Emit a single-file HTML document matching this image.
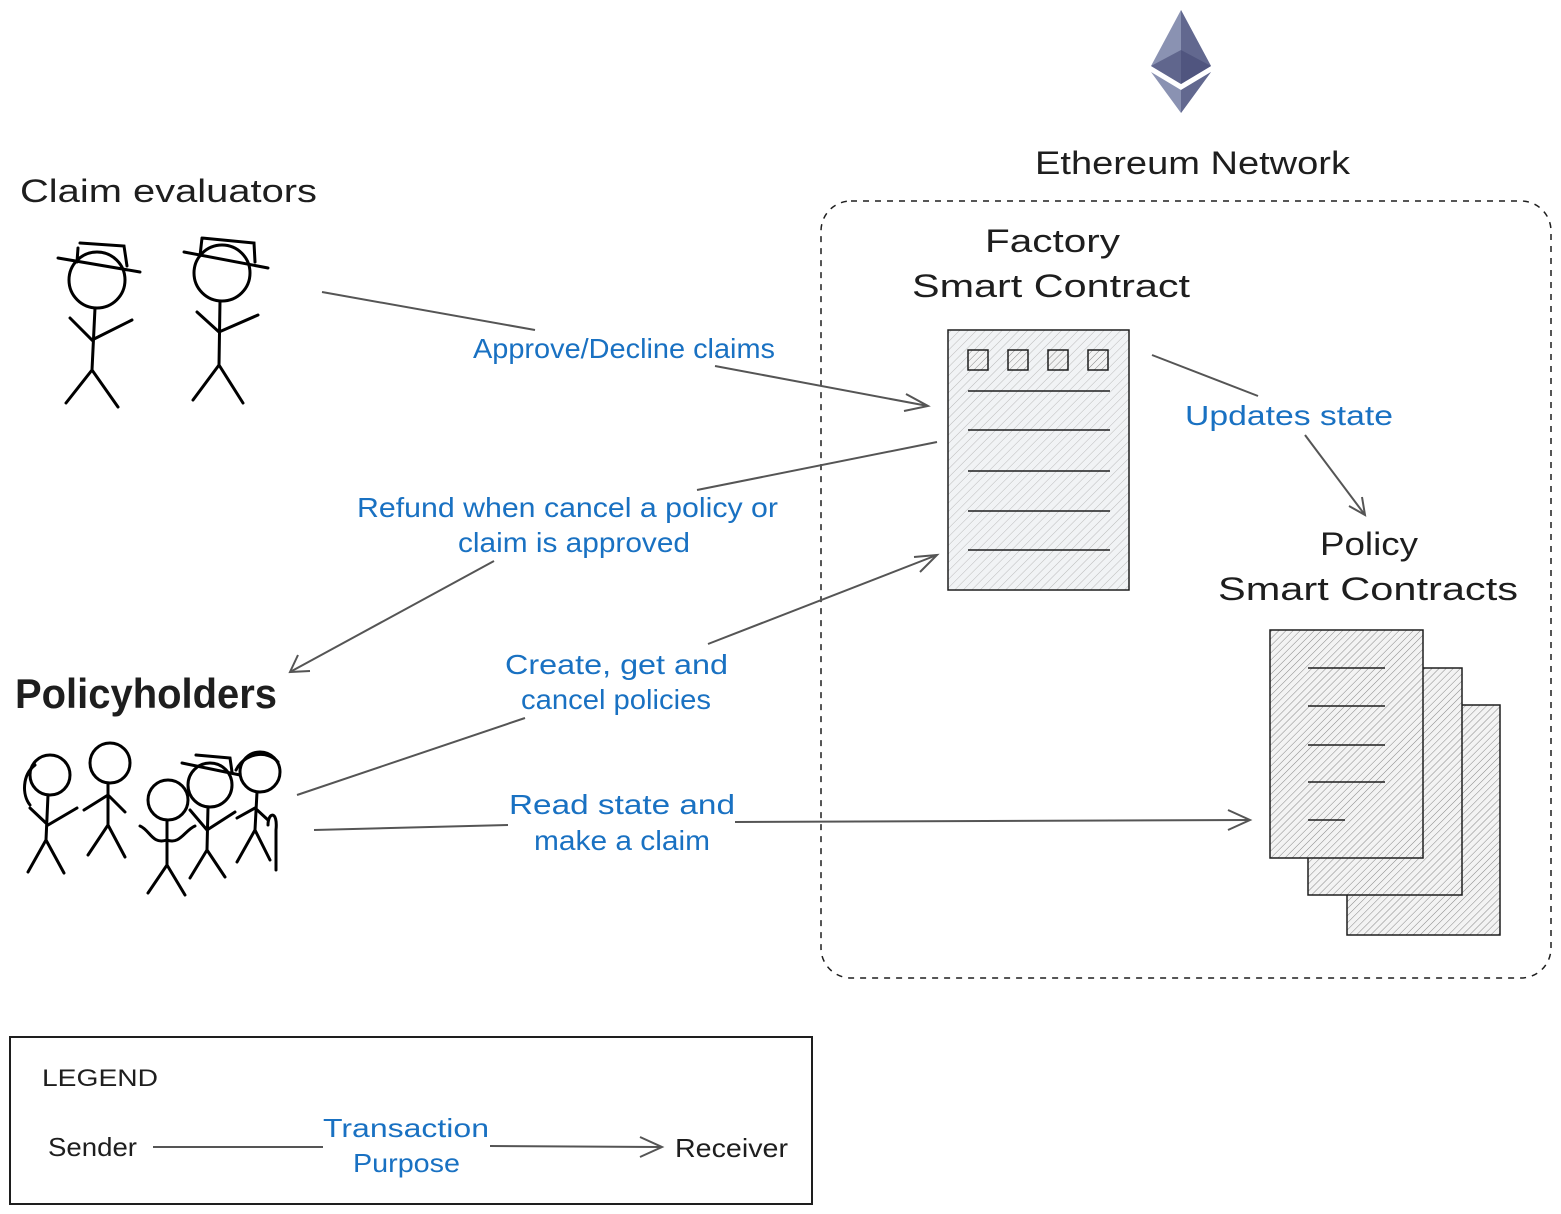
<!DOCTYPE html>
<html><head><meta charset="utf-8"><style>
html,body{margin:0;padding:0;background:#fff;}
svg{display:block;}
text{font-family:"Liberation Sans",sans-serif;}
.k{fill:#1e1e1e}
.b{fill:#1971c2}
</style></head><body>
<svg width="1561" height="1214" viewBox="0 0 1561 1214" xmlns="http://www.w3.org/2000/svg">
<defs>
<pattern id="h" width="6" height="6" patternUnits="userSpaceOnUse" patternTransform="rotate(45)">
<rect width="6" height="6" fill="#f1f3f5"/><line x1="0" y1="0" x2="0" y2="6" stroke="#bbb" stroke-width="1"/></pattern>
<pattern id="h2" width="5" height="5" patternUnits="userSpaceOnUse" patternTransform="rotate(45)">
<rect width="5" height="5" fill="#f3f3f3"/><line x1="0" y1="0" x2="0" y2="5" stroke="#888" stroke-width="1"/></pattern>
</defs>
<polygon points="1181,10 1151,66 1181,84 1211,66" fill="#8a92b2"/>
<polygon points="1181,10 1181,84 1211,66" fill="#62688f"/>
<polygon points="1181,50 1151,66 1181,84 1211,66" fill="#454a75" opacity="0.6"/>
<polygon points="1151,72 1181,113 1211,72 1181,90" fill="#8a92b2"/>
<polygon points="1181,90 1181,113 1211,72" fill="#62688f"/>

<g lengthAdjust="spacingAndGlyphs">
<text x="1035" y="174" font-size="32" class="k" textLength="315" lengthAdjust="spacingAndGlyphs">Ethereum Network</text>
<text x="985" y="252" font-size="32" class="k" textLength="135" lengthAdjust="spacingAndGlyphs">Factory</text>
<text x="912" y="297" font-size="32" class="k" textLength="278" lengthAdjust="spacingAndGlyphs">Smart Contract</text>
</g>
<rect x="821" y="201" width="730" height="777" rx="30" fill="none" stroke="#1e1e1e" stroke-width="1.5" stroke-dasharray="6 6"/>

<rect x="948" y="330" width="181" height="260" fill="url(#h)" stroke="#1e1e1e" stroke-width="1.5"/>
<g fill="url(#h2)" stroke="#1e1e1e" stroke-width="1.5">
<rect x="968" y="350" width="20" height="20"/><rect x="1008" y="350" width="20" height="20"/>
<rect x="1048" y="350" width="20" height="20"/><rect x="1088" y="350" width="20" height="20"/></g>
<g stroke="#1e1e1e" stroke-width="1.5">
<line x1="968" y1="391" x2="1110" y2="391"/><line x1="968" y1="430" x2="1110" y2="430"/>
<line x1="968" y1="471" x2="1110" y2="471"/><line x1="968" y1="511" x2="1110" y2="511"/>
<line x1="968" y1="550" x2="1110" y2="550"/></g>

<text x="1185" y="425" font-size="28" class="b" textLength="208" lengthAdjust="spacingAndGlyphs">Updates state</text>
<g stroke="#555" stroke-width="2" fill="none">
<path d="M1152,355 L1258,396"/><path d="M1305,435 L1365,515"/><path d="M1349,506 L1365,515 L1362,497"/></g>
<text x="1320" y="555" font-size="32" class="k" textLength="98" lengthAdjust="spacingAndGlyphs">Policy</text>
<text x="1218" y="600" font-size="32" class="k" textLength="300" lengthAdjust="spacingAndGlyphs">Smart Contracts</text>

<g stroke="#1e1e1e" stroke-width="1.5">
<rect x="1347" y="705" width="153" height="230" fill="url(#h2)"/>
<rect x="1308" y="668" width="154" height="227" fill="url(#h2)"/>
<rect x="1270" y="630" width="153" height="228" fill="url(#h2)"/>
<line x1="1308" y1="668" x2="1385" y2="668"/><line x1="1308" y1="706" x2="1385" y2="706"/>
<line x1="1308" y1="745" x2="1385" y2="745"/><line x1="1308" y1="782" x2="1385" y2="782"/>
<line x1="1308" y1="820" x2="1345" y2="820"/></g>

<text x="20" y="202" font-size="32" class="k" textLength="297" lengthAdjust="spacingAndGlyphs">Claim evaluators</text>
<g stroke="#000" stroke-width="3" fill="none" stroke-linecap="round">
<circle cx="97" cy="280" r="28"/><path d="M58,258 L140,272 M80,243 L124,246 L127,266 M78,248 L77,262"/>
<path d="M95,308 L92,370 M92,370 L66,403 M92,370 L118,407 M70,318 L92,340 L132,320"/>
<circle cx="222" cy="273" r="28"/><path d="M184,252 L268,268 M202,238 L254,243 L255,262 M202,238 L200,256"/>
<path d="M220,301 L219,365 M219,365 L193,400 M219,365 L243,403 M197,312 L219,332 L258,315"/>
</g>

<text x="15" y="708" font-size="42" font-weight="bold" class="k" textLength="262" lengthAdjust="spacingAndGlyphs">Policyholders</text>
<g stroke="#000" stroke-width="3" fill="none" stroke-linecap="round">
<circle cx="50" cy="775" r="20"/><path d="M48,795 L46,840 L28,872 M46,840 L64,873 M30,808 L48,825 L77,808 M35,765 C22,775 22,795 30,805"/>
<circle cx="110" cy="763" r="20"/><path d="M108,783 L108,825 L88,855 M108,825 L125,857 M84,810 L108,795 L125,812"/>
<circle cx="168" cy="800" r="20"/><path d="M167,820 L167,865 L148,893 M167,865 L185,895 M140,826 C150,830 152,845 167,840 C180,845 185,830 195,826"/>
<circle cx="210" cy="785" r="22"/><path d="M182,763 L240,775 M196,755 L230,758 L232,772 M208,807 L207,850 L190,878 M207,850 L225,877 M190,810 L207,830 L235,812"/>
<circle cx="260" cy="772" r="20"/><path d="M236,770 C245,752 268,750 278,762 M257,792 L255,830 L237,862 M255,830 L270,860 M237,818 L255,808 L268,820 M268,825 C268,812 278,810 276,830 L276,870"/>
</g>

<g stroke="#555" stroke-width="2" fill="none">
<path d="M322,292 L535,330"/><path d="M715,366 L928,406"/><path d="M906,394 L928,406 L904,411"/>
<path d="M937,442 L697,490"/><path d="M494,561 L290,672"/><path d="M298,655 L290,672 L310,671"/>
<path d="M297,795 L525,718"/><path d="M708,644 L937,555"/><path d="M914,557 L937,555 L920,572"/>
<path d="M314,830 L508,825"/><path d="M735,822 L1250,820"/><path d="M1228,810 L1250,820 L1228,830"/>
</g>
<g font-size="28" class="b">
<text x="473" y="358" textLength="302" lengthAdjust="spacingAndGlyphs">Approve/Decline claims</text>
<text x="357" y="517" textLength="421" lengthAdjust="spacingAndGlyphs">Refund when cancel a policy or</text>
<text x="458" y="552" textLength="232" lengthAdjust="spacingAndGlyphs">claim is approved</text>
<text x="505" y="674" textLength="223" lengthAdjust="spacingAndGlyphs">Create, get and</text>
<text x="521" y="709" textLength="190" lengthAdjust="spacingAndGlyphs">cancel policies</text>
<text x="509" y="814" textLength="226" lengthAdjust="spacingAndGlyphs">Read state and</text>
<text x="534" y="850" textLength="176" lengthAdjust="spacingAndGlyphs">make a claim</text>
</g>

<rect x="10" y="1037" width="802" height="167" fill="none" stroke="#1e1e1e" stroke-width="2"/>
<text x="42" y="1086" font-size="24" class="k" textLength="116" lengthAdjust="spacingAndGlyphs">LEGEND</text>
<text x="48" y="1156" font-size="26" class="k" textLength="89" lengthAdjust="spacingAndGlyphs">Sender</text>
<text x="675" y="1157" font-size="26" class="k" textLength="113" lengthAdjust="spacingAndGlyphs">Receiver</text>
<g stroke="#555" stroke-width="2" fill="none">
<path d="M153,1147 L323,1147"/><path d="M490,1146 L662,1147"/><path d="M640,1137 L662,1147 L640,1157"/></g>
<text x="323" y="1137" font-size="26" class="b" textLength="166" lengthAdjust="spacingAndGlyphs">Transaction</text>
<text x="353" y="1172" font-size="26" class="b" textLength="107" lengthAdjust="spacingAndGlyphs">Purpose</text>
</svg>
</body></html>
